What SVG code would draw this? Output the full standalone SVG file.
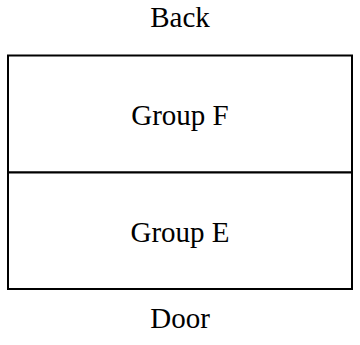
<svg xmlns="http://www.w3.org/2000/svg" width="360" height="345" viewBox="0 0 360 345">
<style>
.box{fill:#fff;stroke:#000;stroke-width:2}
.lbl{fill:#000;text-anchor:middle}
</style>
<rect width="360" height="345" fill="#fff"/>
<g id="label-back"><text class="lbl" x="180" y="27" style="font-family:'Liberation Serif',serif;font-size:29px">Back</text></g>
<g id="group-f"><rect class="box" x="8" y="55.5" width="344" height="117"/><text class="lbl" x="180" y="124.5" style="font-family:'Liberation Serif',serif;font-size:29px">Group F</text></g>
<g id="group-e"><rect class="box" x="8" y="172.5" width="344" height="116.5"/><text class="lbl" x="180" y="241.5" style="font-family:'Liberation Serif',serif;font-size:29px">Group E</text></g>
<g id="label-door"><text class="lbl" x="180" y="328" style="font-family:'Liberation Serif',serif;font-size:29px">Door</text></g>
</svg>
